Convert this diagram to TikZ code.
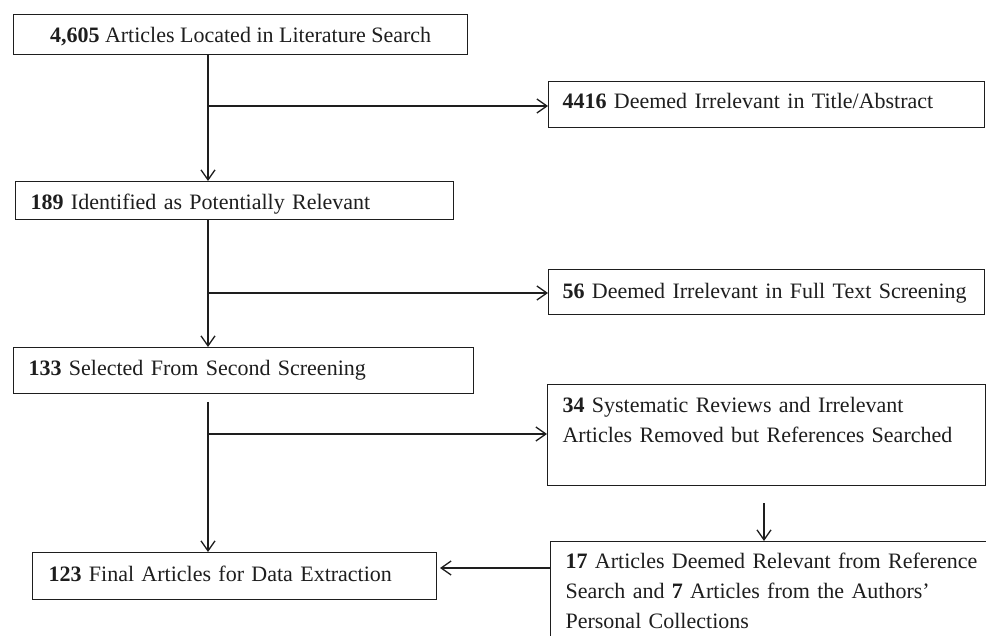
\documentclass[tikz,border=0pt]{standalone}
\usepackage{fontspec}
\setmainfont{Liberation Serif}
\usetikzlibrary{arrows.meta,calc}
\definecolor{ink}{HTML}{1E1E1E}
\tikzset{
  box/.style={draw=ink, line width=1.2pt, anchor=north west, inner ysep=0pt,
    font=\fontsize{22}{30}\selectfont, text=ink},
  lbox/.style={box, align=left},
  conn/.style={draw=ink, line width=1.3pt},
  arr/.style={conn, -{Straight Barb[length=10pt,width=14pt,line width=1.3pt]}}
}
\begin{document}
\begin{tikzpicture}[x=1pt,y=-1pt]
\useasboundingbox (0,0) rectangle (986,636);
\clip (0,0) rectangle (986,636);
\fill[white] (0,0) rectangle (986,636);

\node[box, minimum width=454pt, inner xsep=0pt, text height=27.7pt, text depth=12.3pt] (b1) at (13,14)
  {\textbf{4,605} Articles Located in Literature Search};
\node[lbox, inner xsep=14pt, text width=408pt, text height=27pt, text depth=19pt] (b2) at (548,81)
  {\textbf{4416} Deemed Irrelevant in Title/Abstract};
\node[lbox, inner xsep=15pt, text width=408pt, text height=28pt, text depth=10pt] (b3) at (15,181)
  {\textbf{189} Identified as Potentially Relevant};
\node[lbox, inner xsep=14pt, text width=408pt, text height=29pt, text depth=16pt] (b4) at (548,269)
  {\textbf{56} Deemed Irrelevant in Full Text Screening};
\node[lbox, inner xsep=15pt, text width=430pt, text height=28pt, text depth=18pt] (b5) at (13,347)
  {\textbf{133} Selected From Second Screening};
\node[lbox, inner xsep=15pt, text width=408pt, text height=28pt, text depth=73pt] (b6) at (547,384)
  {\textbf{34} Systematic Reviews and Irrelevant\\Articles Removed but References Searched};
\node[lbox, inner xsep=15pt, text width=430pt, text height=27pt, text depth=112pt] (b7) at (550,541)
  {\textbf{17} Articles Deemed Relevant from Reference\\Search and \textbf{7} Articles from the Authors’\\Personal Collections};
\node[lbox, inner xsep=16pt, text width=372pt, text height=28.5pt, text depth=18.5pt] (b8) at (32,552)
  {\textbf{123} Final Articles for Data Extraction};

% trunk 1
\coordinate (j1) at (208,106);
\draw[arr] (b1.south -| j1) -- (b3.north -| j1);
\draw[arr] (j1) -- (j1 -| b2.west);
% trunk 2
\coordinate (j2) at (208,293);
\draw[arr] (b3.south -| j2) -- (b5.north -| j2);
\draw[arr] (j2) -- (j2 -| b4.west);
% trunk 3
\coordinate (t3) at (208,402);
\coordinate (j3) at (208,434);
\draw[arr] (t3) -- (b8.north -| t3);
\draw[arr] (j3) -- (j3 -| b6.west);
% box 6 to box 7
\coordinate (c6) at (764,503);
\draw[arr] (c6) -- (b7.north -| c6);
% box 7 to box 8
\coordinate (c7) at (550,568);
\coordinate (c8) at (440,568);
\draw[arr] (c7 -| b7.west) -- (c8);
\end{tikzpicture}
\end{document}
